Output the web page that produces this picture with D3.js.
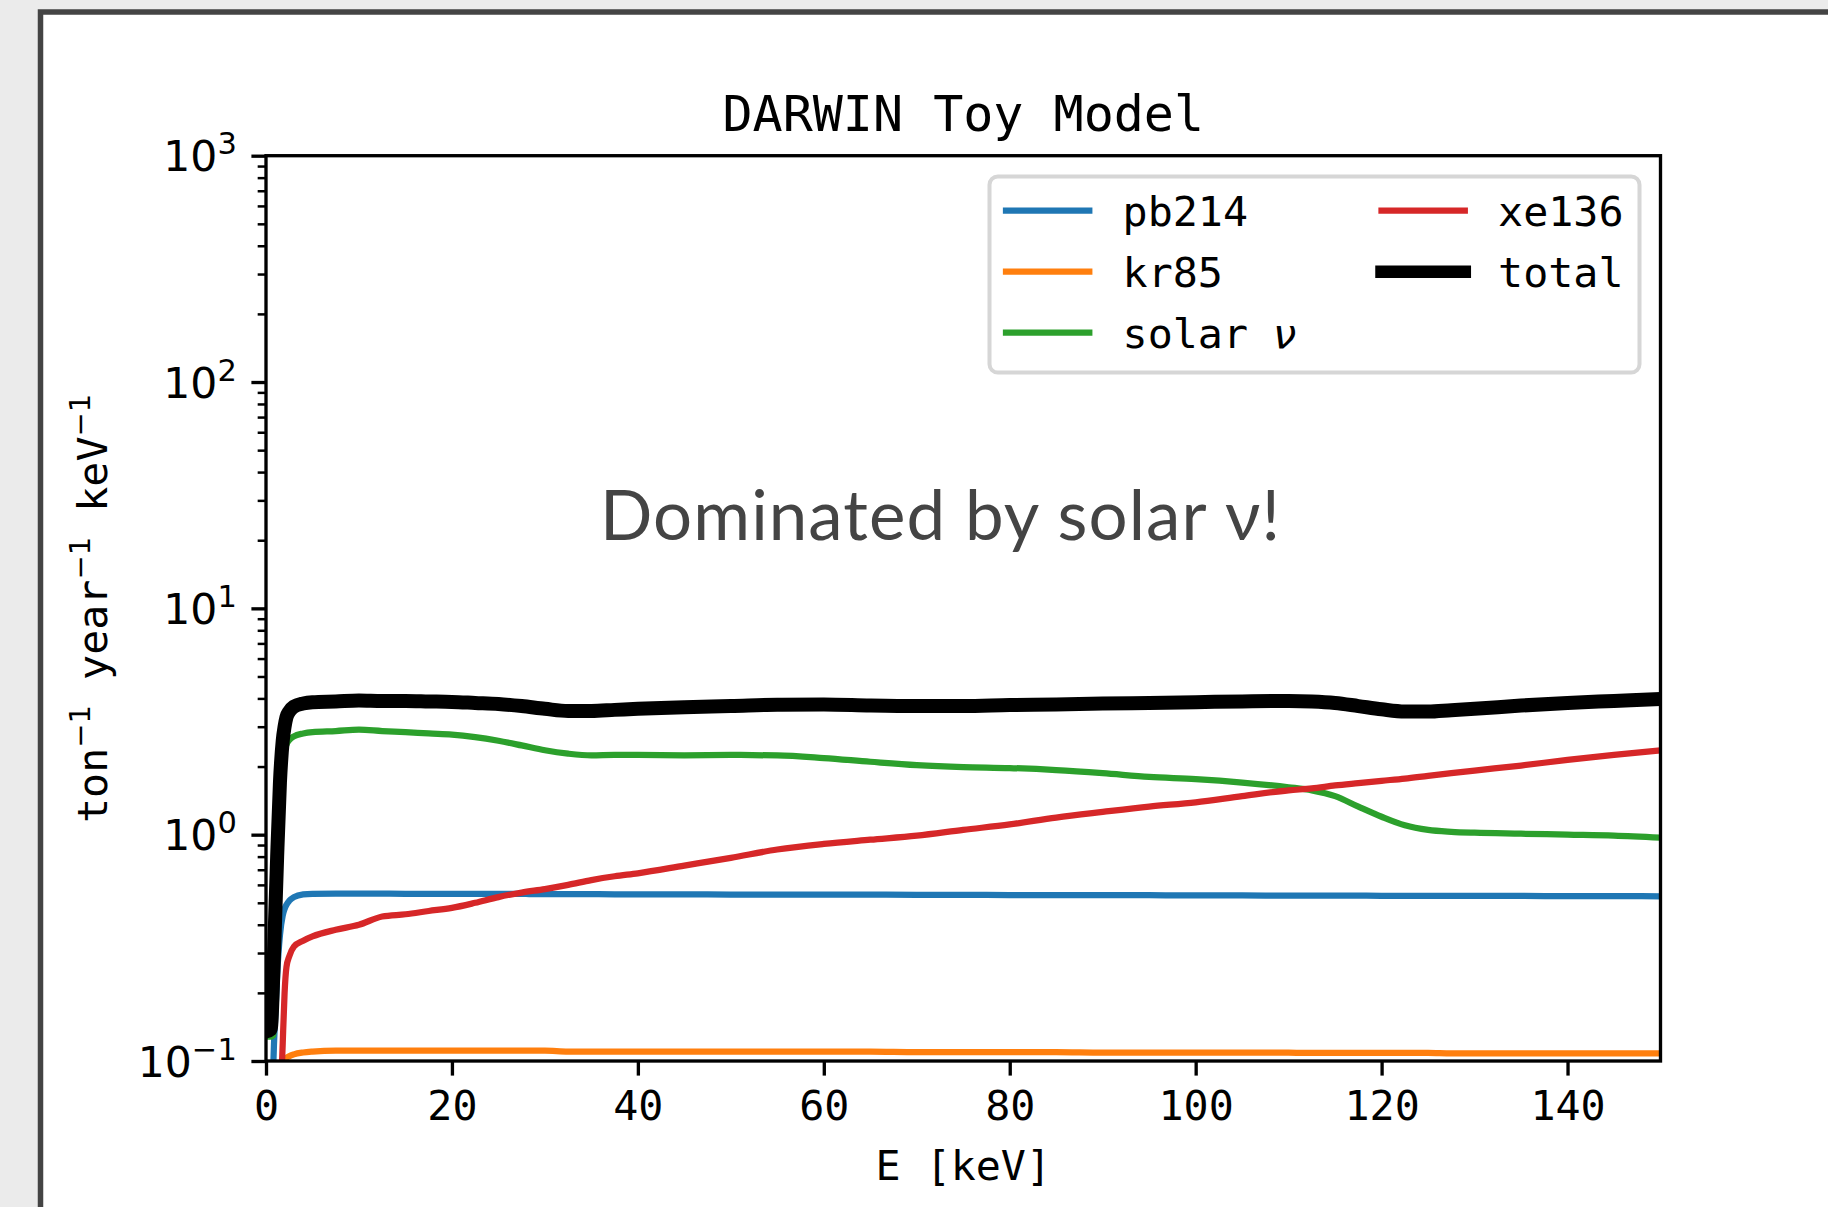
<!DOCTYPE html>
<html>
<head>
<meta charset="utf-8">
<script src="https://cdn.jsdelivr.net/npm/d3@7"></script>
<style>
  html, body { margin: 0; padding: 0; background: #ebebeb; }
  svg { display: block; }
  text { white-space: pre; }
</style>
</head>
<body>
<svg id="chart" width="1828" height="1207"></svg>
<script>
// energy bins [keV] and rates [ton^-1 year^-1 keV^-1]
var energy = [0, 0.5, 0.8, 1.0, 1.2, 1.5, 1.8, 2.0, 2.2, 2.5,
    3, 4, 5, 7.5, 10, 12.5, 15, 17.5, 20, 22.5,
    25, 27.5, 30, 32.5, 35, 37.5, 40, 45, 50, 55,
    60, 65, 70, 75, 80, 85, 90, 95, 100, 105,
    110, 112.5, 115, 117.5, 120, 122.5, 125, 127.5, 130, 135,
    140, 145, 150];

var pb214 = [0.01, 0.02, 0.1, 0.16, 0.24, 0.36, 0.44, 0.47, 0.49, 0.51,
    0.53, 0.545, 0.548, 0.549, 0.549, 0.549, 0.548, 0.548, 0.548, 0.547,
    0.547, 0.547, 0.546, 0.546, 0.546, 0.545, 0.545, 0.545, 0.544, 0.544,
    0.543, 0.543, 0.542, 0.542, 0.541, 0.541, 0.540, 0.540, 0.539, 0.539,
    0.538, 0.538, 0.538, 0.538, 0.537, 0.537, 0.537, 0.537, 0.536, 0.536,
    0.535, 0.535, 0.534];

var kr85 = [0.01, 0.01, 0.01, 0.01, 0.01, 0.02, 0.09, 0.1, 0.103, 0.105,
    0.107, 0.109, 0.110, 0.111, 0.111, 0.111, 0.111, 0.111, 0.111, 0.111,
    0.111, 0.111, 0.111, 0.110, 0.110, 0.110, 0.110, 0.110, 0.110, 0.110,
    0.110, 0.110, 0.1095, 0.1095, 0.1095, 0.1095, 0.109, 0.109, 0.109, 0.109,
    0.109, 0.1085, 0.1085, 0.1085, 0.1085, 0.1085, 0.1085, 0.108, 0.108, 0.108,
    0.108, 0.108, 0.108];

var solarNu = [0.128, 0.128, 0.13, 0.2, 0.45, 1.2, 2.0, 2.35, 2.5, 2.62,
    2.72, 2.8, 2.84, 2.87, 2.91, 2.87, 2.84, 2.8, 2.77, 2.7,
    2.6, 2.48, 2.36, 2.28, 2.24, 2.25, 2.25, 2.24, 2.25, 2.24,
    2.18, 2.1, 2.03, 1.99, 1.97, 1.93, 1.87, 1.80, 1.76, 1.70,
    1.62, 1.57, 1.48, 1.33, 1.2, 1.1, 1.05, 1.03, 1.02, 1.01,
    1.0, 0.99, 0.97];

var xe136 = [0.01, 0.01, 0.01, 0.01, 0.01, 0.05, 0.12, 0.2, 0.26, 0.29,
    0.32, 0.34, 0.355, 0.38, 0.40, 0.435, 0.445, 0.46, 0.475, 0.50,
    0.53, 0.555, 0.575, 0.60, 0.63, 0.655, 0.675, 0.73, 0.79, 0.86,
    0.91, 0.95, 0.99, 1.05, 1.11, 1.19, 1.26, 1.33, 1.39, 1.48,
    1.57, 1.6, 1.65, 1.69, 1.73, 1.77, 1.82, 1.87, 1.92, 2.02,
    2.14, 2.25, 2.36];

var total = [0.135, 0.138, 0.25, 0.45, 0.8, 1.7, 2.6, 3.0, 3.3, 3.5,
    3.68, 3.8, 3.85, 3.88, 3.92, 3.9, 3.9, 3.88, 3.86, 3.82,
    3.78, 3.7, 3.6, 3.52, 3.52, 3.56, 3.6, 3.66, 3.7, 3.75,
    3.76, 3.72, 3.7, 3.7, 3.74, 3.76, 3.8, 3.82, 3.85, 3.88,
    3.9, 3.88, 3.82, 3.7, 3.58, 3.5, 3.5, 3.55, 3.6, 3.72,
    3.82, 3.9, 3.98];

var seriesNames = ['pb214', 'kr85', 'solar ν', 'xe136', 'total'];
var xTicks = [0, 20, 40, 60, 80, 100, 120, 140];
var yExponents = [-1, 0, 1, 2, 3];

// styles
var colors = ['#1f77b4', '#ff7f0e', '#2ca02c', '#d62728', '#000000'];
var widths = [6.25, 6.25, 6.25, 6.25, 14];
var mono = "'DejaVu Sans Mono', monospace";
var sans = "'DejaVu Sans', sans-serif";
var fs = 41.67;

var series = [pb214, kr85, solarNu, xe136, total].map(function(vals, i) {
    return {
        name: seriesNames[i],
        color: colors[i],
        width: widths[i],
        values: vals.map(function(v, j) { return {e: energy[j], v: v}; })
    };
});

var svg = d3.select('#chart');

// slide frame
svg.append('rect')
    .attr('x', 40.5).attr('y', 12)
    .attr('width', 2000).attr('height', 1400)
    .attr('fill', '#fff')
    .attr('stroke', '#444').attr('stroke-width', 5.5);

var plot = {left: 266, right: 1660.5, top: 155.7, bottom: 1061};

var x = d3.scaleLinear().domain([0, 150]).range([plot.left, plot.right]);
var y = d3.scaleLog().domain([0.1, 1000]).range([plot.bottom, plot.top]);

svg.append('clipPath').attr('id', 'clip')
    .append('rect')
    .attr('x', plot.left).attr('y', plot.top)
    .attr('width', plot.right - plot.left).attr('height', plot.bottom - plot.top);

var line = d3.line()
    .x(function(d) { return x(d.e); })
    .y(function(d) { return y(d.v); })
    .curve(d3.curveMonotoneX);

svg.append('g')
    .attr('clip-path', 'url(#clip)')
    .selectAll('path')
    .data(series)
    .enter()
    .append('path')
    .attr('d', function(d) { return line(d.values); })
    .attr('fill', 'none')
    .attr('stroke', function(d) { return d.color; })
    .attr('stroke-width', function(d) { return d.width; })
    .attr('stroke-linejoin', 'round')
    .attr('stroke-linecap', 'square');

// x axis
var xAxis = d3.axisBottom(x)
    .tickValues(xTicks)
    .tickSize(14.6)
    .tickPadding(14.6)
    .tickFormat(d3.format('d'));

svg.append('g')
    .attr('transform', 'translate(0,' + plot.bottom + ')')
    .call(xAxis)
    .call(function(g) {
        g.select('.domain').remove();
        g.selectAll('line').attr('stroke', '#000').attr('stroke-width', 3.33);
        g.selectAll('text')
            .attr('fill', '#000')
            .style('font-family', mono)
            .style('font-size', fs + 'px');
    });

// y axis, minor ticks
var minors = [];
yExponents.slice(0, -1).forEach(function(p) {
    for (var m = 2; m <= 9; m++) minors.push(m * Math.pow(10, p));
});

svg.append('g')
    .attr('transform', 'translate(' + plot.left + ',0)')
    .call(d3.axisLeft(y).tickValues(minors).tickSize(8.33).tickFormat(function() { return ''; }))
    .call(function(g) {
        g.select('.domain').remove();
        g.selectAll('line').attr('stroke', '#000').attr('stroke-width', 2.5);
    });

// y axis, major ticks with 10^n labels
svg.append('g')
    .attr('transform', 'translate(' + plot.left + ',0)')
    .call(d3.axisLeft(y)
        .tickValues(yExponents.map(function(p) { return Math.pow(10, p); }))
        .tickSize(14.6)
        .tickPadding(14.6)
        .tickFormat(function() { return ''; }))
    .call(function(g) {
        g.select('.domain').remove();
        g.selectAll('line').attr('stroke', '#000').attr('stroke-width', 3.33);
        g.selectAll('text')
            .attr('dy', 15)
            .attr('fill', '#000')
            .style('font-family', sans)
            .style('font-size', '42.5px')
            .each(function(d) {
                var t = d3.select(this);
                var p = Math.round(Math.log10(d));
                t.append('tspan').text('10');
                t.append('tspan')
                    .attr('dy', -17)
                    .style('font-size', '30.5px')
                    .text(String(p).replace('-', '\u2212'));
            });
    });

// spines
svg.append('rect')
    .attr('x', plot.left).attr('y', plot.top)
    .attr('width', plot.right - plot.left).attr('height', plot.bottom - plot.top)
    .attr('fill', 'none')
    .attr('stroke', '#000')
    .attr('stroke-width', 3.33);

// title and axis labels
svg.append('text')
    .attr('x', (plot.left + plot.right) / 2).attr('y', 131)
    .attr('text-anchor', 'middle')
    .style('font-family', mono).style('font-size', '50px')
    .text('DARWIN Toy Model');

svg.append('text')
    .attr('x', (plot.left + plot.right) / 2).attr('y', 1180)
    .attr('text-anchor', 'middle')
    .style('font-family', mono).style('font-size', fs + 'px')
    .text('E [keV]');

var ylab = svg.append('text')
    .attr('transform', 'translate(107,' + (plot.top + plot.bottom) / 2 + ') rotate(-90)')
    .attr('text-anchor', 'middle')
    .style('font-family', mono).style('font-size', fs + 'px');
['ton', ' year', ' keV'].forEach(function(s, i) {
    ylab.append('tspan').attr('dy', i ? 17 : 0).text(s);
    ylab.append('tspan')
        .attr('dy', -17)
        .style('font-family', sans).style('font-size', '29px')
        .text('\u22121');
});

// annotation
svg.append('text')
    .attr('x', 940).attr('y', 540)
    .attr('text-anchor', 'middle')
    .attr('fill', '#444')
    .attr('textLength', 680)
    .attr('lengthAdjust', 'spacing')
    .style('font-family', "Lato, 'Open Sans', sans-serif")
    .style('font-size', '69px')
    .text('Dominated by solar ν!');

// legend
var legend = svg.append('g');
legend.append('rect')
    .attr('x', 989.5).attr('y', 176.5)
    .attr('width', 650).attr('height', 196)
    .attr('rx', 8.3)
    .attr('fill', '#fff')
    .attr('stroke', '#d6d6d6')
    .attr('stroke-width', 4);

var rowY = [210.7, 271.7, 332.7];
var colX = [1006, 1381.5];

var item = legend.selectAll('g.item')
    .data(series)
    .enter()
    .append('g')
    .attr('class', 'item')
    .attr('transform', function(d, i) {
        return 'translate(' + colX[Math.floor(i / 3)] + ',' + rowY[i % 3] + ')';
    });

item.append('line')
    .attr('x1', 0).attr('x2', 83.3)
    .attr('stroke', function(d) { return d.color; })
    .attr('stroke-width', function(d) { return d.name === 'total' ? 12.5 : d.width; })
    .attr('stroke-linecap', 'square');

item.append('text')
    .attr('x', 116.6).attr('y', 15)
    .style('font-family', mono).style('font-size', fs + 'px')
    .each(function(d) {
        var t = d3.select(this);
        if (d.name.indexOf('ν') >= 0) {
            t.append('tspan').text(d.name.replace('ν', ''));
            t.append('tspan')
                .style('font-family', sans)
                .style('font-style', 'italic')
                .text('ν');
        } else {
            t.text(d.name);
        }
    });
</script>
</body>
</html>
